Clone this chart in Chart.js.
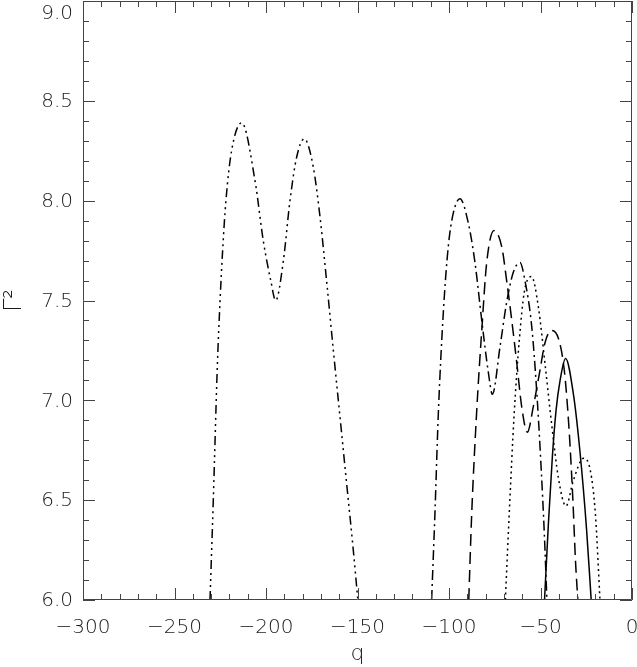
<!DOCTYPE html>
<html lang="en">
  <head>
    <meta charset="UTF-8" />
    <title>Gamma squared vs q</title>
    <script src="https://cdn.jsdelivr.net/npm/chart.js"></script>
    <style>
      body { margin: 0; background: #fff; }
      canvas { display: block; }
    </style>
  </head>
  <body>
    <canvas id="grafico" width="637" height="667"></canvas>

    <script>
      // valores: q (eixo x) e Gamma^2 (eixo y)
      var xTicks = [-300, -250, -200, -150, -100, -50, 0];
      var yTicks = [6.0, 6.5, 7.0, 7.5, 8.0, 8.5, 9.0];

      // traço-ponto-ponto-ponto
      var q1 = [-230.6, -228.8, -226.6, -225.1, -223.7, -221.9, -218.8, -213.3, -206.0, -201.5, -197.4, -194.7,
                -190.5, -186.9, -183.2, -179.1, -174.2, -170.5, -166.8, -163.2, -159.6, -155.9, -152.3, -149.8];
      var g1 = [6.00, 6.50, 7.17, 7.50, 7.75, 8.00, 8.25, 8.39, 8.10, 7.80, 7.60, 7.50,
                7.70, 8.00, 8.22, 8.31, 8.17, 7.92, 7.59, 7.25, 6.92, 6.58, 6.25, 6.00];

      // traço-ponto
      var q2 = [-109.5, -107.7, -105.8, -103.1, -100.4, -97.6, -94.0, -89.5, -85.8, -82.1, -78.5,
                -76.3, -72.1, -68.5, -64.9, -61.2, -58.5, -54.8, -52.1, -49.7, -47.9, -46.5];
      var g2 = [6.00, 6.43, 6.94, 7.44, 7.77, 7.94, 8.01, 7.89, 7.69, 7.40, 7.14,
                7.03, 7.27, 7.49, 7.64, 7.69, 7.60, 7.37, 7.05, 6.67, 6.33, 6.00];

      // tracejada
      var q3 = [-89.2, -87.6, -84.9, -82.1, -79.4, -75.4, -71.2, -68.5, -65.7, -63.0, -60.3,
                -57.2, -53.9, -50.3, -47.5, -43.9, -40.2, -37.0, -34.5, -32.3, -30.9, -29.6];
      var g3 = [6.00, 6.43, 6.94, 7.35, 7.69, 7.85, 7.77, 7.60, 7.40, 7.19, 6.97,
                6.84, 6.97, 7.15, 7.29, 7.35, 7.31, 7.15, 6.87, 6.50, 6.20, 6.00];

      // pontilhada
      var q4 = [-69.2, -67.1, -64.4, -61.6, -58.9, -54.9, -51.2, -47.5, -43.9, -40.2, -36.1, -32.0, -26.5, -22.8, -20.0, -17.5];
      var g4 = [6.00, 6.43, 6.93, 7.30, 7.54, 7.62, 7.47, 7.18, 6.88, 6.61, 6.47, 6.60, 6.71, 6.65, 6.43, 6.00];

      // contínua
      var q5 = [-47.8, -45.7, -43.5, -41.5, -39.3, -36.3, -32.0, -28.4, -24.8, -22.3];
      var g5 = [6.00, 6.38, 6.72, 6.95, 7.10, 7.21, 7.03, 6.74, 6.35, 6.00];

      var corEixo = "#444";
      var corTexto = "#1a1a1a";
      var fonte = { family: "DejaVu Sans", size: 20, weight: 200 };

      function pontos(qs, gs) {
        var lista = [];
        for (var i = 0; i < qs.length; i++) {
          lista.push({ x: qs[i], y: gs[i] });
        }
        return lista;
      }

      function serie(qs, gs, dash) {
        return {
          data: pontos(qs, gs),
          borderColor: "#000",
          borderWidth: 1.5,
          borderDash: dash,
          pointRadius: 0,
          fill: false,
          cubicInterpolationMode: "monotone",
        };
      }

      // moldura com marcas para dentro nos quatro lados (estilo IDL)
      const moldura = {
        id: "moldura",
        afterDatasetsDraw(chart) {
          const ctx = chart.ctx;
          const a = chart.chartArea;
          const x = chart.scales.x;
          const y = chart.scales.y;
          ctx.save();
          ctx.strokeStyle = corEixo;
          ctx.lineWidth = 1;
          ctx.beginPath();
          ctx.rect(a.left + 0.5, a.top + 0.5, a.right - a.left - 1, a.bottom - a.top - 1);
          for (let v = xTicks[0]; v <= xTicks[xTicks.length - 1]; v += 10) {
            const px = Math.round(x.getPixelForValue(v)) + 0.5;
            const len = v % 50 === 0 ? 12 : 6;
            ctx.moveTo(px, a.bottom);
            ctx.lineTo(px, a.bottom - len);
            ctx.moveTo(px, a.top);
            ctx.lineTo(px, a.top + len);
          }
          for (let i = 0; i <= 30; i++) {
            const v = yTicks[0] + i * 0.1;
            const py = Math.round(y.getPixelForValue(v)) + 0.5;
            const len = i % 5 === 0 ? 12 : 6;
            ctx.moveTo(a.left, py);
            ctx.lineTo(a.left + len, py);
            ctx.moveTo(a.right, py);
            ctx.lineTo(a.right - len, py);
          }
          ctx.stroke();
          ctx.restore();
        },
      };

      const ctx = document.getElementById("grafico");
      new Chart(ctx, {
        type: "line",
        data: {
          datasets: [
            serie(q1, g1, [9, 4, 2, 4, 2, 4, 2, 4]),
            serie(q2, g2, [10, 4, 2, 4]),
            serie(q3, g3, [12, 6]),
            serie(q4, g4, [2, 3.5]),
            serie(q5, g5, []),
          ],
        },
        options: {
          responsive: false,
          animation: false,
          devicePixelRatio: 1,
          layout: { padding: { top: 1, right: 5, left: 0, bottom: 0 } },
          plugins: {
            legend: { display: false },
            tooltip: { enabled: false },
          },
          scales: {
            x: {
              type: "linear",
              min: xTicks[0],
              max: xTicks[xTicks.length - 1],
              grid: { display: false, drawTicks: false },
              border: { display: false },
              ticks: {
                stepSize: 50,
                padding: 16,
                color: corTexto,
                font: fonte,
                callback: function (v) {
                  return v < 0 ? "\u2212" + Math.abs(v) : String(v);
                },
              },
              title: {
                display: true,
                text: "q",
                color: corTexto,
                font: { family: "DejaVu Sans", size: 22, weight: 200 },
                padding: { top: 0, bottom: 0 },
              },
              afterFit: function (scale) {
                scale.height = 67;
                scale.paddingLeft = 0;
                scale.paddingRight = 0;
              },
            },
            y: {
              min: yTicks[0],
              max: yTicks[yTicks.length - 1],
              grid: { display: false, drawTicks: false },
              border: { display: false },
              ticks: {
                stepSize: 0.5,
                padding: 10,
                labelOffset: 1,
                color: corTexto,
                font: fonte,
                callback: function (v) {
                  var txt = (Math.round(v * 10) / 10).toFixed(1);
                  // o rótulo do topo fica abaixo da moldura, como na figura
                  return v >= 9 ? ["", txt] : txt;
                },
              },
              title: {
                display: true,
                text: "\u0393\u00B2",
                color: corTexto,
                font: { family: "DejaVu Sans", size: 24, weight: 200 },
                padding: { top: 0, bottom: 0 },
              },
              afterFit: function (scale) {
                scale.width = 83;
                scale.paddingTop = 0;
                scale.paddingBottom = 0;
              },
            },
          },
        },
        plugins: [moldura],
      });
    </script>
  </body>
</html>
